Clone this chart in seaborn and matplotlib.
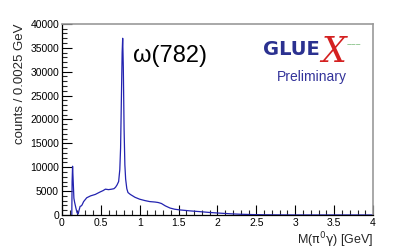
import matplotlib
matplotlib.use("Agg")
import matplotlib.pyplot as plt
import seaborn as sns
import pandas as pd
from matplotlib.ticker import MultipleLocator

mass = [0.128, 0.132, 0.138, 0.145, 0.155, 0.165, 0.18, 0.195, 0.21, 0.22, 0.235, 0.25, 0.26, 0.28,
        0.32, 0.37, 0.43, 0.49, 0.53, 0.56, 0.6, 0.64, 0.67, 0.69, 0.71, 0.73, 0.745, 0.755,
        0.765, 0.775, 0.782, 0.79, 0.80, 0.81, 0.82, 0.835, 0.85, 0.88, 0.94, 1.0, 1.07, 1.13,
        1.2, 1.24, 1.28, 1.33, 1.39, 1.45, 1.52, 1.65, 1.77, 1.9, 2.03, 2.16, 2.29, 2.45, 2.6,
        2.8, 3.0, 4.0]
counts = [0, 7000, 10200, 7500, 3500, 2600, 1500, 500, 200, 900, 1800, 1900, 2100, 2800,
          3600, 4000, 4300, 4800, 5100, 5400, 5300, 5400, 5500, 5800, 6300, 7000, 9500, 14000,
          24000, 34000, 37000, 31000, 18000, 10500, 7500, 5500, 4700, 4300, 3700, 3300, 3000, 2800,
          2700, 2600, 2400, 1900, 1450, 1200, 1050, 850, 700, 520, 380, 250, 150, 80, 40,
          15, 5, 0]

df = pd.DataFrame({"mass": mass, "counts": counts})

sns.set_theme(style="white")
plt.rcParams["font.family"] = ["Liberation Sans", "DejaVu Sans"]

fig = plt.figure(figsize=(4.15, 2.52), dpi=100)
ax = fig.add_axes([0.149, 0.147, 0.750, 0.758])
sns.lineplot(data=df, x="mass", y="counts", ax=ax, color="#2323b0", linewidth=0.9)

ax.set_xlim(0, 4)
ax.set_ylim(0, 40000)
ax.xaxis.set_minor_locator(MultipleLocator(0.1))
ax.yaxis.set_major_locator(MultipleLocator(5000))
ax.yaxis.set_minor_locator(MultipleLocator(1000))
ax.set_xticks([0, 0.5, 1, 1.5, 2, 2.5, 3, 3.5, 4])
ax.set_xticklabels(["0", "0.5", "1", "1.5", "2", "2.5", "3", "3.5", "4"])
ax.tick_params(axis="both", which="major", direction="in", length=7, width=0.8,
               labelsize=7.5, colors="black", pad=2)
ax.tick_params(axis="both", which="minor", direction="in", length=3.5, width=0.8)
ax.tick_params(axis="x", which="both", bottom=True, top=False)
ax.tick_params(axis="y", which="both", left=True, right=False)
for s in ["left", "bottom"]:
    ax.spines[s].set_color("black")
    ax.spines[s].set_linewidth(0.9)
for s in ["top", "right"]:
    ax.spines[s].set_color("#999999")
    ax.spines[s].set_linewidth(1.2)

ax.set_xlabel("M($\\mathrm{\\pi^0\\gamma}$) [GeV]", fontsize=9, loc="right", labelpad=2)
ax.set_ylabel("counts / 0.0025 GeV", fontsize=9.5, loc="top", labelpad=3)

ax.text(0.228, 0.80, "ω(782)", transform=ax.transAxes, fontsize=17, color="black")
ax.text(0.645, 0.84, "GLUE", transform=ax.transAxes, fontsize=14, color="#2b3190",
        fontweight="bold", family=["DejaVu Sans"])
ax.text(0.835, 0.80, "X", transform=ax.transAxes, fontsize=25, color="#d42020",
        fontstyle="italic", family=["DejaVu Serif"])
ax.text(0.915, 0.88, "~~~", transform=ax.transAxes, fontsize=6, color="#3a9a3a")
ax.text(0.69, 0.70, "Preliminary", transform=ax.transAxes, fontsize=10, color="#33339a")

fig.savefig("out.png", dpi=100)
